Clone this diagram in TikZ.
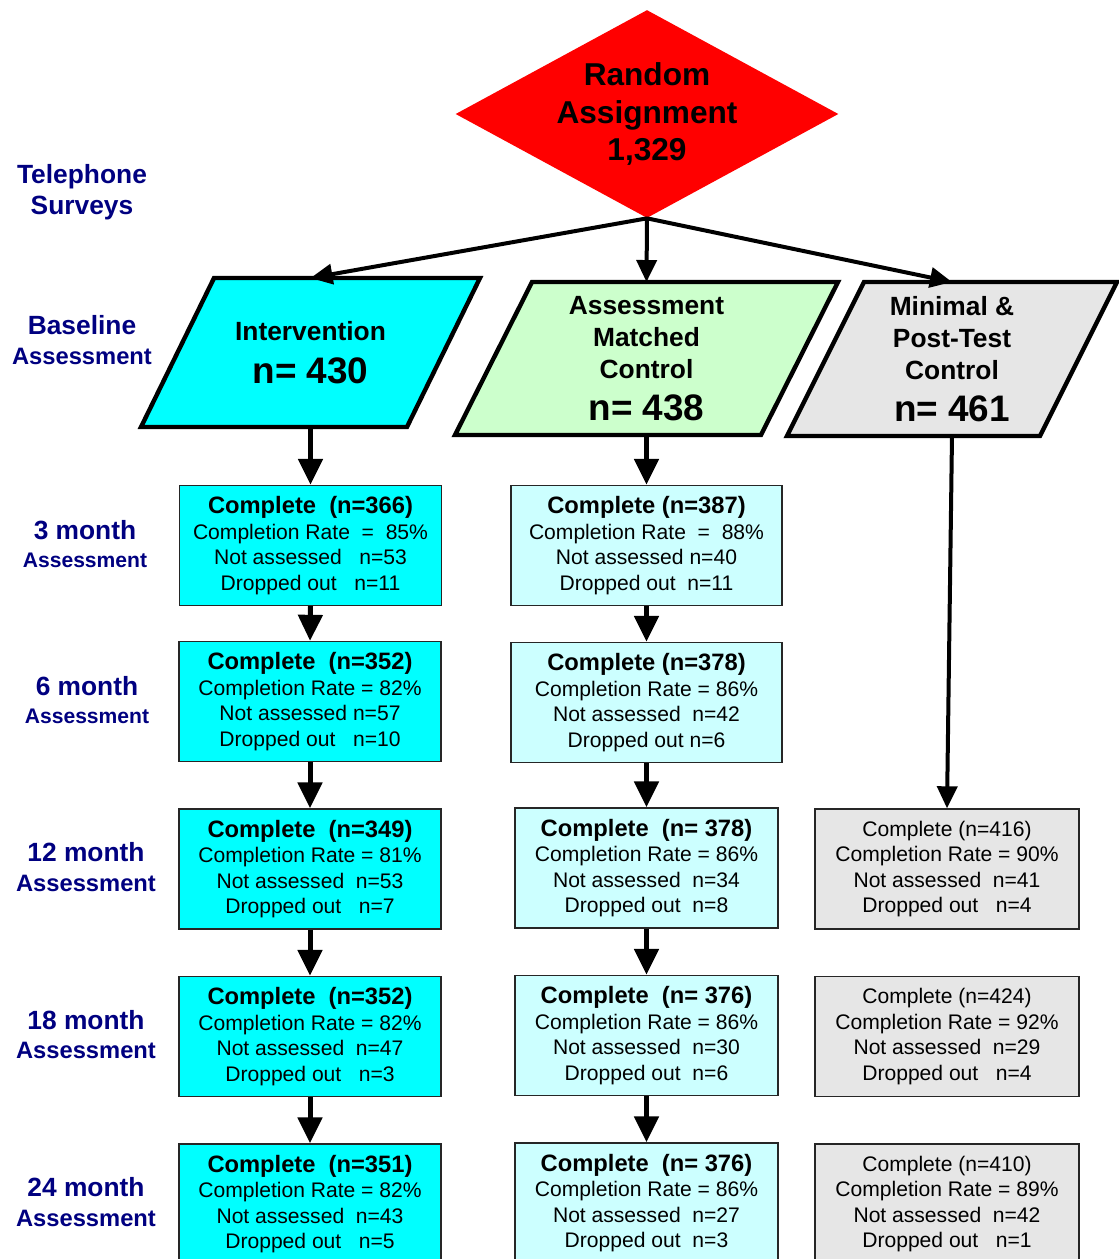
\documentclass[tikz,border=0pt]{standalone}
\usepackage{fontspec}
\setmainfont{Liberation Sans}
\usetikzlibrary{arrows.meta,shapes.geometric,backgrounds}
\definecolor{navy}{HTML}{000080}
\definecolor{interv}{HTML}{00FFFF}
\definecolor{matched}{HTML}{CCFFCC}
\definecolor{postt}{HTML}{E6E6E6}
\definecolor{lightcyan}{HTML}{CCFFFF}
\tikzset{
	decide/.style={diamond, fill=red, inner sep=0pt, aspect=1.84,
			minimum width=7.66cm, minimum height=4.16cm, align=center,
			font=\fontsize{18}{21.3}\selectfont\bfseries},
	group/.style={rectangle, inner sep=0pt, outer sep=0pt, align=center,
			font=\fontsize{15}{18.2}\selectfont\bfseries},
	slant/.style={draw, line width=2.5pt, line join=miter},
	wave/.style={rectangle, draw=black!85, line width=0.8pt, inner sep=0pt,
			minimum height=2.4cm, align=center, font=\fontsize{12}{14.5}\selectfont},
	timelbl/.style={align=center, text=navy, font=\fontsize{13.5}{17}\selectfont\bfseries},
	flow/.style={line width=0.1cm, -{Triangle[length=0.52cm, width=0.48cm]}},
	split/.style={line width=0.08cm, -{Triangle[length=0.44cm, width=0.4cm]}}
}
\newcommand{\hd}[1]{{\fontsize{13.5}{14.5}\selectfont\bfseries #1}}
\newcommand{\groupsize}[1]{{\fontsize{21}{24}\selectfont #1}}

\begin{document}
\begin{tikzpicture}[x=0.02cm, y=-0.02cm]
	\useasboundingbox (0,0) rectangle (1119,1259);

	\node[decide] (rand) at (647,114) {Random\\Assignment\\1,329};

	\node[group, minimum width=6.78cm, minimum height=2.98cm] (int) at (310.5,352.5) {Intervention\\[6pt]\groupsize{n= 430}};
	\node[group, minimum width=7.66cm, minimum height=3.06cm] (amc) at (646.5,358.5) {Assessment\\Matched\\Control\\[5.5pt]\groupsize{n= 438}};
	\node[group, minimum width=6.6cm, minimum height=3.08cm] (ptc) at (952,359) {Minimal \&\\Post-Test\\Control\\[5.5pt]\groupsize{n= 461}};
	\begin{scope}[on background layer]
		\draw[slant, fill=interv] ([xshift=1.46cm]int.north west) -- (int.north east) -- ([xshift=-1.46cm]int.south east) -- (int.south west) -- cycle;
		\draw[slant, fill=matched] ([xshift=1.54cm]amc.north west) -- (amc.north east) -- ([xshift=-1.54cm]amc.south east) -- (amc.south west) -- cycle;
		\draw[slant, fill=postt] ([xshift=1.54cm]ptc.north west) -- (ptc.north east) -- ([xshift=-1.54cm]ptc.south east) -- (ptc.south west) -- cycle;
	\end{scope}

	\node[timelbl, font=\fontsize{15}{17.6}\selectfont\bfseries] (tel) at (82,192) {Telephone\\Surveys};
	\node[timelbl] (base) at (82,340) {{\fontsize{15}{17}\selectfont Baseline}\\Assessment};
	\node[timelbl, font=\fontsize{12}{16}\selectfont\bfseries] (t3) at (85,544) {{\fontsize{15}{16}\selectfont 3 month}\\Assessment};
	\node[timelbl, font=\fontsize{12}{16}\selectfont\bfseries] (t6) at (87,700) {{\fontsize{15}{16}\selectfont 6 month}\\Assessment};
	\node[timelbl] (t12) at (86,867) {{\fontsize{15}{17}\selectfont 12 month}\\Assessment};
	\node[timelbl] (t18) at (86,1034.5) {{\fontsize{15}{17}\selectfont 18 month}\\Assessment};
	\node[timelbl] (t24) at (86,1202) {{\fontsize{15}{17}\selectfont 24 month}\\Assessment};

	\node[wave, fill=interv, minimum width=5.24cm] (i3) at (310.5,545.5) {\hd{Complete~ (n=366)}\\Completion Rate~ =~ 85\%\\Not assessed~~ n=53\\Dropped out~~ n=11};
	\node[wave, fill=interv, minimum width=5.24cm] (i6) at (310,701.5) {\hd{Complete~ (n=352)}\\Completion Rate = 82\%\\Not assessed n=57\\Dropped out~~ n=10};
	\node[wave, fill=interv, minimum width=5.24cm] (i12) at (310,869) {\hd{Complete~ (n=349)}\\Completion Rate = 81\%\\Not assessed~ n=53\\Dropped out~~ n=7};
	\node[wave, fill=interv, minimum width=5.24cm] (i18) at (310,1036.5) {\hd{Complete~ (n=352)}\\Completion Rate = 82\%\\Not assessed~ n=47\\Dropped out~~ n=3};
	\node[wave, fill=interv, minimum width=5.24cm] (i24) at (310,1204) {\hd{Complete~ (n=351)}\\Completion Rate = 82\%\\Not assessed~ n=43\\Dropped out~~ n=5};

	\node[wave, fill=lightcyan, minimum width=5.42cm] (m3) at (646.5,545.5) {\hd{Complete (n=387)}\\Completion Rate~ =~ 88\%\\Not assessed n=40\\Dropped out~ n=11};
	\node[wave, fill=lightcyan, minimum width=5.42cm] (m6) at (646.5,702.5) {\hd{Complete (n=378)}\\Completion Rate = 86\%\\Not assessed~ n=42\\Dropped out n=6};
	\node[wave, fill=lightcyan, minimum width=5.26cm] (m12) at (646.5,868) {\hd{Complete~ (n= 378)}\\Completion Rate = 86\%\\Not assessed~ n=34\\Dropped out~ n=8};
	\node[wave, fill=lightcyan, minimum width=5.26cm] (m18) at (646.5,1035.5) {\hd{Complete~ (n= 376)}\\Completion Rate = 86\%\\Not assessed~ n=30\\Dropped out~ n=6};
	\node[wave, fill=lightcyan, minimum width=5.26cm] (m24) at (646.5,1203) {\hd{Complete~ (n= 376)}\\Completion Rate = 86\%\\Not assessed~ n=27\\Dropped out~ n=3};

	\node[wave, fill=postt, minimum width=5.28cm] (p12) at (947,869) {Complete (n=416)\\Completion Rate = 90\%\\Not assessed~ n=41\\Dropped out~~ n=4};
	\node[wave, fill=postt, minimum width=5.28cm] (p18) at (947,1036.5) {Complete (n=424)\\Completion Rate = 92\%\\Not assessed~ n=29\\Dropped out~~ n=4};
	\node[wave, fill=postt, minimum width=5.28cm] (p24) at (947,1204) {Complete (n=410)\\Completion Rate = 89\%\\Not assessed~ n=42\\Dropped out~~ n=1};

	\draw[split] (rand.south) -- (int.north);
	\draw[split] (rand.south) -- (amc.north);
	\draw[split] (rand.south) -- (ptc.north);

	\draw[flow] (int.south) -- (i3.north);
	\draw[flow] (i3.south) -- (i6.north);
	\draw[flow] (i6.south) -- (i12.north);
	\draw[flow] (i12.south) -- (i18.north);
	\draw[flow] (i18.south) -- (i24.north);

	\draw[flow] (amc.south) -- (m3.north);
	\draw[flow] (m3.south) -- (m6.north);
	\draw[flow] (m6.south) -- (m12.north);
	\draw[flow] (m12.south) -- (m18.north);
	\draw[flow] (m18.south) -- (m24.north);

	\draw[split] (ptc.south) -- (p12.north);
\end{tikzpicture}
\end{document}
